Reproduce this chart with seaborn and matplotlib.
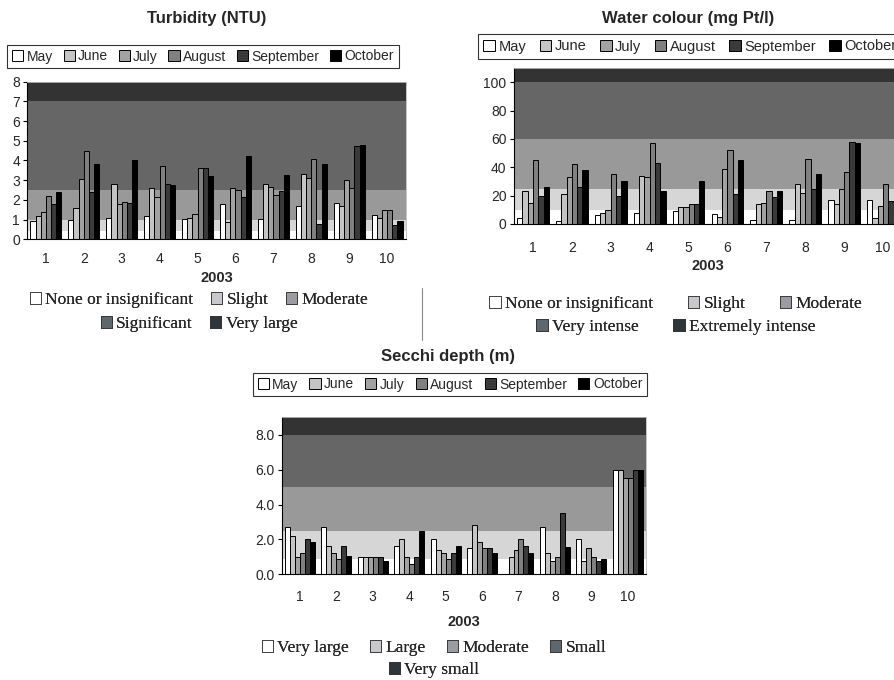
import numpy as np
import pandas as pd
import matplotlib
matplotlib.use("Agg")
import matplotlib.pyplot as plt
from matplotlib.patches import Patch
import seaborn as sns

# Stations and months
stations = [str(i) for i in range(1, 11)]
months = ["May", "June", "July", "August", "September", "October"]

# Turbidity (NTU), one list per month, stations 1..10
turb_may = [0.95, 1.0, 1.1, 1.2, 1.05, 1.8, 1.05, 1.7, 1.85, 1.25]
turb_jun = [1.2, 1.6, 2.8, 2.6, 1.1, 0.9, 2.8, 3.3, 1.7, 1.1]
turb_jul = [1.4, 3.05, 1.8, 2.15, 1.3, 2.6, 2.65, 3.1, 3.0, 1.5]
turb_aug = [2.2, 4.5, 1.9, 3.7, 3.6, 2.5, 2.25, 4.1, 2.6, 1.5]
turb_sep = [1.8, 2.4, 1.85, 2.8, 3.6, 2.15, 2.45, 0.8, 4.75, 0.75]
turb_oct = [2.4, 3.8, 4.05, 2.75, 3.2, 4.25, 3.25, 3.8, 4.8, 0.95]

# Water colour (mg Pt/l)
col_may = [4, 2, 6, 8, 9, 7, 3, 3, 17, 17]
col_jun = [23, 21, 8, 34, 12, 5, 14, 28, 14, 4]
col_jul = [15, 33, 10, 33, 12, 39, 15, 22, 25, 13]
col_aug = [45, 42, 35, 57, 14, 52.5, 23, 46, 37, 28]
col_sep = [20, 26, 20, 43, 14, 21, 19, 25, 58, 16]
col_oct = [26, 38, 30, 23, 30, 45, 23, 35, 57, 1]

# Secchi depth (m)
sec_may = [2.7, 2.7, 1.0, 1.6, 2.0, 1.5, 0.0, 2.7, 2.0, 6.0]
sec_jun = [2.2, 1.6, 1.0, 2.0, 1.4, 2.8, 1.0, 1.2, 0.75, 6.0]
sec_jul = [1.0, 1.2, 1.0, 1.0, 1.2, 1.85, 1.4, 0.75, 1.5, 5.5]
sec_aug = [1.2, 0.9, 1.0, 0.6, 0.9, 1.5, 2.0, 1.0, 1.0, 5.5]
sec_sep = [2.0, 1.6, 1.0, 1.0, 1.2, 1.5, 1.6, 3.5, 0.75, 6.0]
sec_oct = [1.85, 1.05, 0.75, 2.5, 1.6, 1.2, 1.2, 1.55, 0.9, 6.0]

# class limits for background bands
turb_bands = [0, 0.4, 1, 2.5, 7, 8]
col_bands = [0, 10, 25, 60, 100, 110]
sec_bands = [0, 0.9, 2.5, 5, 8, 9]

turb_classes = ["None or insignificant", "Slight", "Moderate", "Significant", "Very large"]
col_classes = ["None or insignificant", "Slight", "Moderate", "Very intense", "Extremely intense"]
sec_classes = ["Very large", "Large", "Moderate", "Small", "Very small"]

month_colors = ["#ffffff", "#c4c4c4", "#a2a2a2", "#808080", "#3a3a3a", "#000000"]
band_colors = ["#ffffff", "#d6d6d6", "#999999", "#666666", "#333333"]
class_colors = ["#ffffff", "#c8c8cc", "#9a9ca2", "#5e666e", "#2e363c"]


def make_df(series):
    rows = []
    for m, vals in zip(months, series):
        for s, v in zip(stations, vals):
            rows.append({"station": s, "month": m, "value": v})
    return pd.DataFrame(rows)


sns.set_style("white")
plt.rcParams["font.family"] = ["Liberation Sans", "DejaVu Sans"]

fig = plt.figure(figsize=(8.95, 6.8), dpi=100)


def draw(rect, series, bands, yticks, fmt, title, title_xy, leg_xy, tpad, lpad, legsize, colsp):
    ax = fig.add_axes(rect)
    for i in range(len(bands) - 1):
        ax.axhspan(bands[i], bands[i + 1], color=band_colors[i], zorder=0, lw=0)
    df = make_df(series)
    sns.barplot(data=df, x="station", y="value", hue="month", palette=month_colors,
                edgecolor="black", linewidth=0.7, width=0.82, saturation=1, ax=ax)
    ax.set_xlim(-0.5, 9.5)
    ax.set_ylim(bands[0], bands[-1])
    ax.set_yticks(yticks)
    ax.set_yticklabels([fmt.format(t) for t in yticks], fontsize=10)
    ax.set_xticks(range(10))
    ax.set_xticklabels(stations, fontsize=10)
    ax.set_xticks(np.arange(-0.5, 10, 1), minor=True)
    ax.tick_params(axis="x", which="major", length=0, pad=tpad)
    ax.tick_params(axis="x", which="minor", length=4, width=0.8, direction="out", color="black")
    ax.tick_params(axis="y", length=3, width=0.8, direction="out", color="black", pad=2, left=True)
    ax.set_xlabel("2003", fontsize=10.5, fontweight="bold", labelpad=lpad)
    ax.set_ylabel("")
    for side in ["top", "right"]:
        ax.spines[side].set_color("#bbbbbb")
        ax.spines[side].set_linewidth(0.6)
    for side in ["left", "bottom"]:
        ax.spines[side].set_color("black")
        ax.spines[side].set_linewidth(0.8)
    handles, labels = ax.get_legend_handles_labels()
    ax.legend(handles, labels, loc="center", bbox_to_anchor=leg_xy, bbox_transform=fig.transFigure,
              ncol=6, frameon=True, fancybox=False, edgecolor="black", fontsize=legsize,
              handlelength=0.8, handleheight=0.8, handletextpad=0.25, columnspacing=colsp,
              borderpad=0.35, borderaxespad=0)
    ax.get_legend().get_frame().set_linewidth(0.8)
    fig.text(title_xy[0], title_xy[1], title, ha="center", va="center",
             fontsize=12, fontweight="bold")
    return ax


def class_legend(classes, split, x, y1, y2, spacing):
    h = [Patch(facecolor=c, edgecolor="#333333", linewidth=0.6) for c in class_colors]
    for idx, yy in [(slice(0, split), y1), (slice(split, 5), y2)]:
        lg = fig.legend(h[idx], classes[idx], loc="center", bbox_to_anchor=(x, yy),
                        ncol=4, frameon=False,
                        prop={"family": ["Liberation Serif"], "size": 12.5},
                        handlelength=0.65, handleheight=0.65, handletextpad=0.25,
                        columnspacing=spacing, borderpad=0, borderaxespad=0)
        fig.add_artist(lg)


W, H = 895.0, 680.0

draw([27 / W, 1 - 239.3 / H, 379 / W, 157.6 / H],
     [turb_may, turb_jun, turb_jul, turb_aug, turb_sep, turb_oct],
     turb_bands, list(range(0, 9)), "{:.0f}", "Turbidity (NTU)",
     (207 / W, 1 - 18 / H), (203 / W, 1 - 56.5 / H), 9, 4, 10, 0.75)

draw([513.5 / W, 1 - 224 / H, 389 / W, 156 / H],
     [col_may, col_jun, col_jul, col_aug, col_sep, col_oct],
     col_bands, [0, 20, 40, 60, 80, 100], "{:.0f}", "Water colour (mg Pt/l)",
     (688 / W, 1 - 18 / H), (690 / W, 1 - 46.5 / H), 12, 3, 10.5, 0.9)

draw([281.7 / W, 1 - 574.3 / H, 364.3 / W, 157 / H],
     [sec_may, sec_jun, sec_jul, sec_aug, sec_sep, sec_oct],
     sec_bands, [0, 2, 4, 6, 8], "{:.1f}", "Secchi depth (m)",
     (448 / W, 1 - 357 / H), (450 / W, 1 - 384.5 / H), 11, 8, 10, 0.8)

class_legend(turb_classes, 3, 199 / W, 1 - 300 / H, 1 - 324 / H, 1.0)
class_legend(col_classes, 3, 676 / W, 1 - 304 / H, 1 - 327 / H, 2.0)
class_legend(sec_classes, 4, 434 / W, 1 - 648 / H, 1 - 670 / H, 1.2)

# thin separator between the two upper charts
fig.add_artist(plt.Line2D([422 / W, 422 / W], [1 - 288 / H, 1 - 340 / H],
                          color="#888888", linewidth=0.8, transform=fig.transFigure))

fig.savefig("out.png", dpi=100)
